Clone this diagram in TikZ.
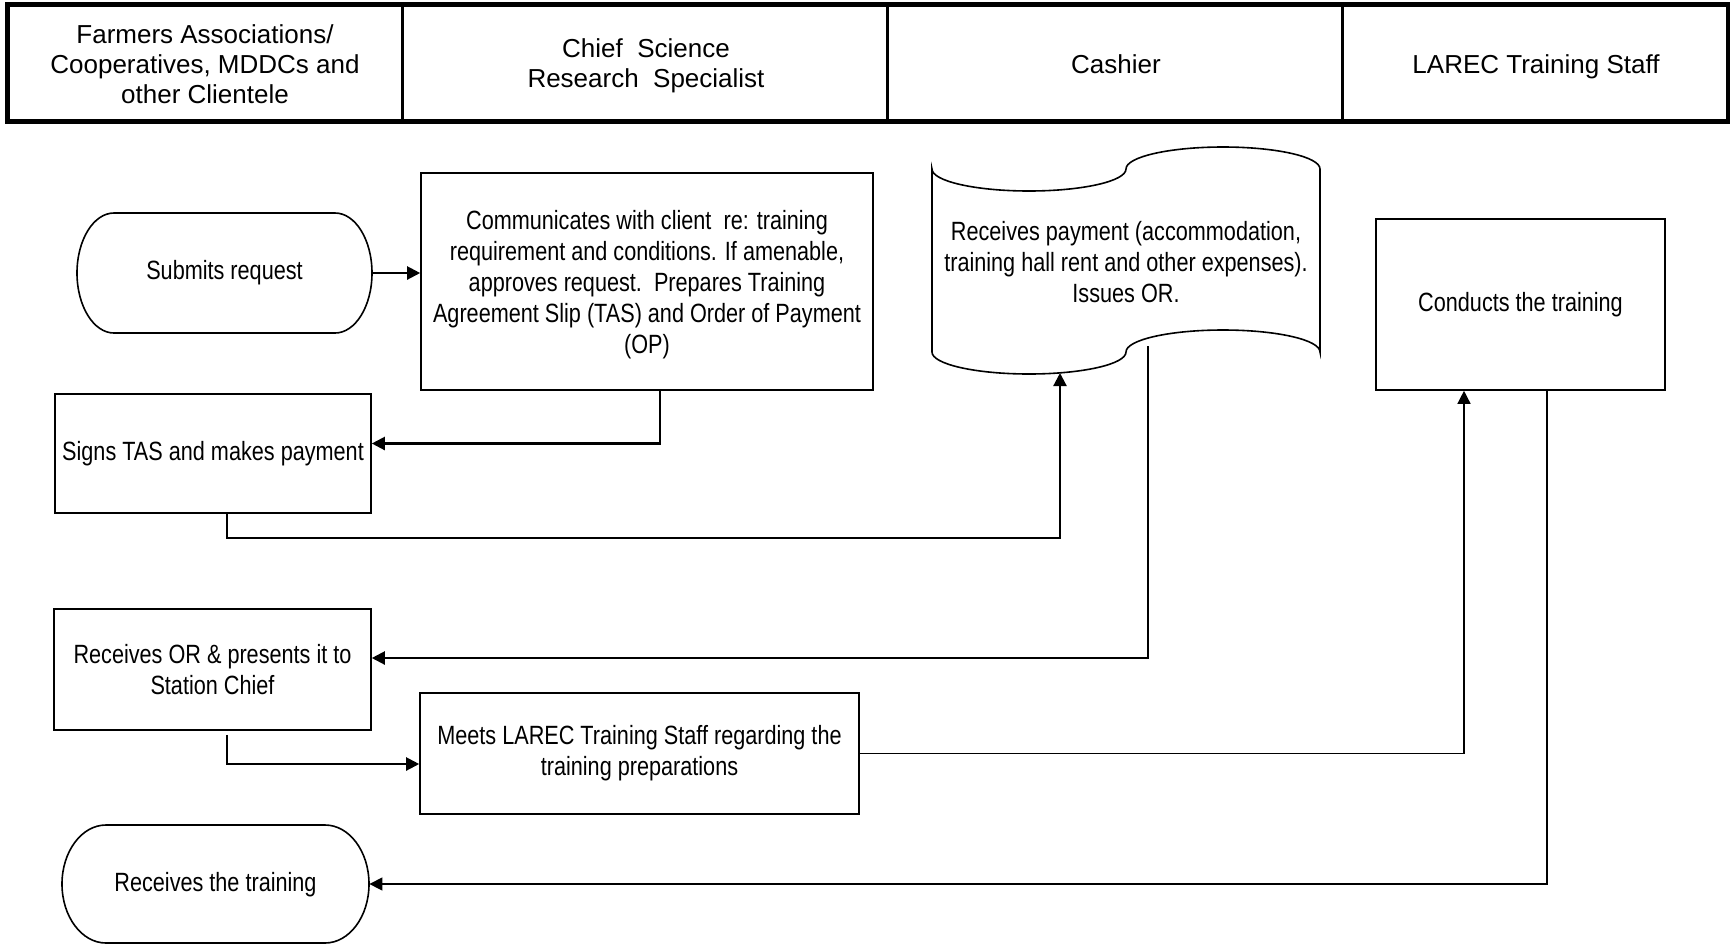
\documentclass[tikz,border=0pt]{standalone}
\usepackage{fontspec}
\setmainfont{Liberation Sans}
\newfontfamily\narrowfont[FakeStretch=0.82]{Liberation Sans}
\usetikzlibrary{arrows.meta,calc}
\newcommand\hdrfont{\fontsize{13}{15}\selectfont}
\newcommand\bodyfont{\narrowfont\fontsize{13.2}{15.5}\selectfont}
\begin{document}
\begin{tikzpicture}[x=0.5pt,y=-0.5pt,
  hdrcell/.style={draw,line width=1.5pt,inner sep=0pt,minimum height=57.5pt},
  hdrtext/.style={font=\hdrfont,align=center,inner sep=0pt},
  shapeline/.style={line width=0.8pt},
  procbox/.style={draw,line width=0.8pt,font=\bodyfont,align=center,inner sep=0pt},
  txt/.style={font=\bodyfont,align=center,inner sep=0pt},
  conn/.style={line width=1.1pt},
  thinconn/.style={line width=0.7pt},
  arr/.style={-{Triangle[length=6.5pt,width=6.5pt]}}]
\fill[white] (0,0) rectangle (1730,944);
\useasboundingbox (0,0) rectangle (1730,944);

% header
\node[hdrcell,minimum width=197pt] (h1) at (205,62.5) {};
\node[hdrcell,minimum width=242.5pt] (h2) at (644.5,62.5) {};
\node[hdrcell,minimum width=227.5pt] (h3) at (1114.5,62.5) {};
\node[hdrcell,minimum width=192.5pt] (h4) at (1534.5,62.5) {};
\draw[line width=2pt] (h1.north west) rectangle (h4.south east);
\node[hdrtext] (h1t) at (205,64) {Farmers Associations/\\Cooperatives, MDDCs and\\other Clientele};
\node[hdrtext] (h2t) at (646,66) {Chief\ \ Science\\Research\ \ Specialist};
\node[hdrtext] (h3t) at (1116,64) {Cashier};
\node[hdrtext] (h4t) at (1536,66.5) {LAREC Training Staff};

% Submits request (terminator)
\draw[shapeline] (114,213) -- (335,213) .. controls (355.4,213) and (372,239.9) .. (372,273)
  .. controls (372,306.1) and (355.4,333) .. (335,333) -- (114,333)
  .. controls (93.6,333) and (77,306.1) .. (77,273) .. controls (77,239.9) and (93.6,213) .. (114,213) -- cycle;
\node[txt,minimum width=147.5pt,minimum height=60pt] (submit) at (224.5,273) {Submits request};

% Communicates
\node[procbox,minimum width=226pt,minimum height=108.5pt] (comm) at (647,281.5) {};
\node[txt] (commt) at (647,285) {Communicates with client\ \ re: training\\requirement and conditions. If amenable,\\approves request.\ \ Prepares Training\\Agreement Slip (TAS) and Order of Payment\\(OP)};

% Cashier (punched tape)
\draw[shapeline] (932,169) .. controls (932,181.15) and (975.43,191) .. (1029,191)
  .. controls (1082.57,191) and (1126,181.15) .. (1126,169)
  .. controls (1126,156.85) and (1169.43,147) .. (1223,147)
  .. controls (1276.57,147) and (1320,156.85) .. (1320,169)
  -- (1320,352)
  .. controls (1320,339.85) and (1276.57,330) .. (1223,330)
  .. controls (1169.43,330) and (1126,339.85) .. (1126,352)
  .. controls (1126,364.15) and (1082.57,374) .. (1029,374)
  .. controls (975.43,374) and (932,364.15) .. (932,352) -- cycle;
\node[txt] (cash) at (1126,262) {Receives payment (accommodation,\\training hall rent and other expenses).\\Issues OR.};
\coordinate (cashin) at (1060,373);
\coordinate (cashout) at (1148,346);

% Conducts the training
\node[procbox,minimum width=144.5pt,minimum height=85.5pt] (conduct) at (1520.5,304.5) {Conducts the training};

% Signs TAS
\node[procbox,minimum width=158pt,minimum height=59.5pt] (signs) at (213,453.5) {Signs TAS and makes payment};

% Receives OR
\node[procbox,minimum width=158.5pt,minimum height=60.5pt] (recor) at (212.5,669.5) {Receives OR \& presents it to\\Station Chief};

% Meets LAREC
\node[procbox,minimum width=219.5pt,minimum height=60.5pt] (meets) at (639.5,753.5) {Meets LAREC Training Staff regarding the\\training preparations};

% Receives the training (terminator)
\draw[shapeline] (106,825) -- (325,825) .. controls (349.3,825) and (369,851.4) .. (369,884)
  .. controls (369,916.6) and (349.3,943) .. (325,943) -- (106,943)
  .. controls (81.7,943) and (62,916.6) .. (62,884) .. controls (62,851.4) and (81.7,825) .. (106,825) -- cycle;
\node[txt,minimum width=153.5pt,minimum height=59pt] (rectrain) at (215.5,885) {Receives the training};

% connectors
\draw[conn,arr] (submit.east) -- (comm.west |- submit.east);
\draw[conn,arr] ([xshift=6.5pt]comm.south) |- ([yshift=5pt]signs.east);
\draw[conn,arr] ([xshift=7pt]signs.south) -- ++(0,24) -| (cashin);
\draw[conn,arr] (cashout) |- ([yshift=5.75pt]recor.east);
\draw[conn,arr] ([xshift=7.25pt,yshift=-2pt]recor.south) |- ([yshift=-5.25pt]meets.west);
\draw[thinconn,arr] (meets.east) -| ([xshift=-28.25pt]conduct.south);
\draw[thinconn,arr] ([xshift=13.25pt]conduct.south) |- ([yshift=0.5pt]rectrain.east);
\end{tikzpicture}
\end{document}
